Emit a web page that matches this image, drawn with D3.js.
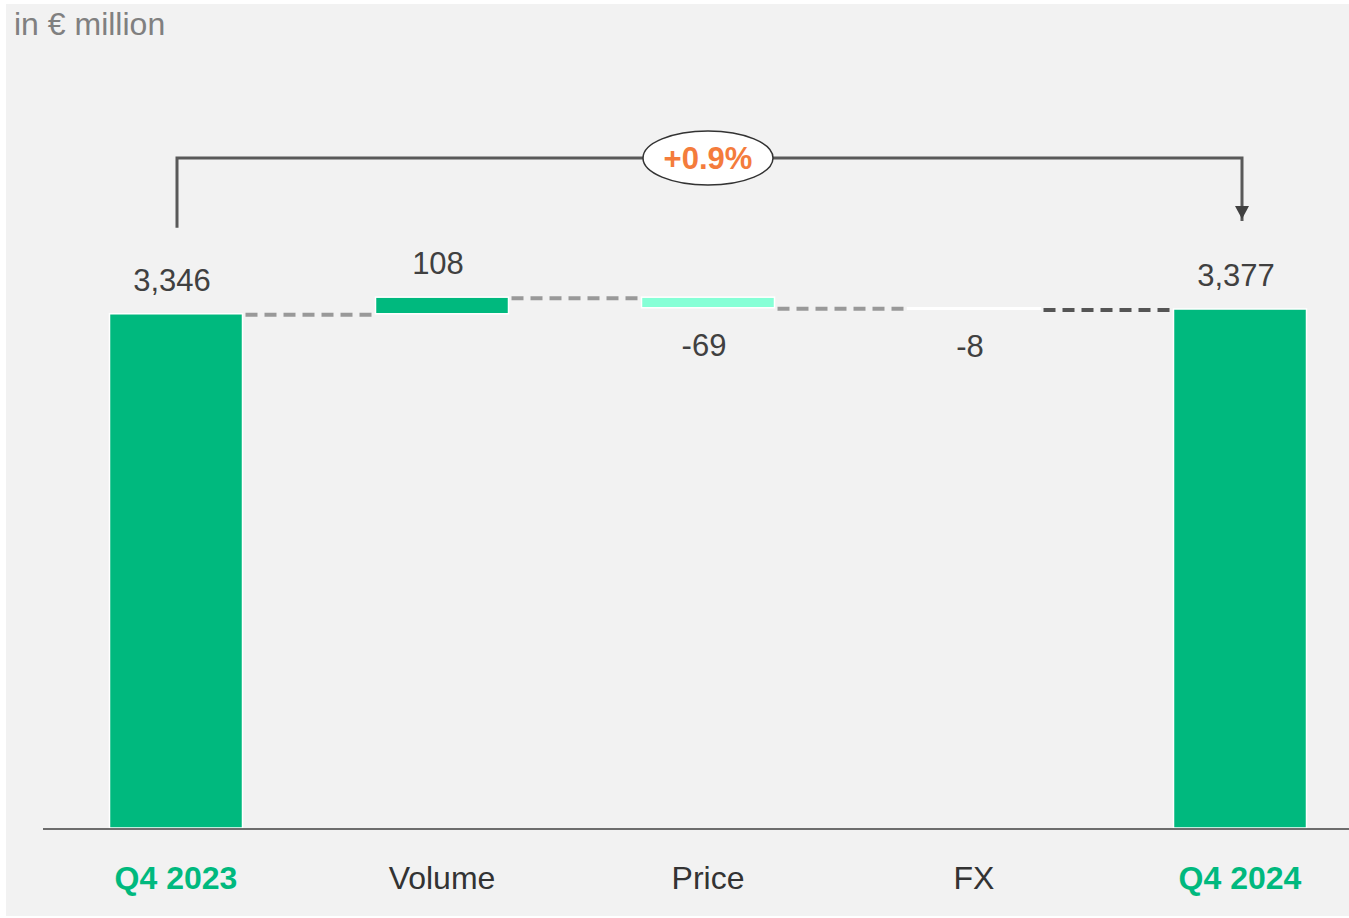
<!DOCTYPE html>
<html>
<head>
<meta charset="utf-8">
<script src="https://d3js.org/d3.v7.min.js"></script>
<style>
  body { margin: 0; background: #fff; }
  text { font-family: Arial, "Liberation Sans", sans-serif; }
</style>
</head>
<body>
<script>
// waterfall data
var categories = ["Q4 2023", "Volume", "Price", "FX", "Q4 2024"];
var values = [3346, 108, -69, -8, 3377];
var kinds = ["total", "delta", "delta", "delta", "total"];
var valueLabels = ["3,346", "108", "-69", "-8", "3,377"];
var barColors = ["#00b97e", "#00b97e", "#86ffd6", "#ffffff", "#00b97e"];
var changeLabel = "+0.9%";
var unitLabel = "in \u20ac million";

var width = 1349, height = 918;

var svg = d3.select("body").append("svg")
    .attr("width", width)
    .attr("height", height);

svg.append("rect")
    .attr("x", 6).attr("y", 4)
    .attr("width", width - 6).attr("height", height - 6)
    .attr("fill", "#f2f2f2");

// cumulative start/end for each bar
var bars = [];
var run = 0;
for (var i = 0; i < categories.length; i++) {
  var d = { cat: categories[i], value: values[i], kind: kinds[i], label: valueLabels[i], color: barColors[i] };
  if (kinds[i] == "total") {
    d.y0 = 0; d.y1 = values[i]; run = values[i];
  } else {
    d.y0 = run; d.y1 = run + values[i]; run = d.y1;
  }
  bars.push(d);
}

var x = d3.scaleBand()
    .domain(categories)
    .range([43, 1373])
    .paddingInner(0.5)
    .paddingOuter(0.25);

var y = d3.scaleLinear()
    .domain([0, 3377])
    .range([828, 309]);

// connectors
for (var i = 0; i < bars.length - 1; i++) {
  var lvl = bars[i].y1;
  svg.append("line")
      .attr("x1", x(bars[i].cat) + x.bandwidth() + 3)
      .attr("x2", x(bars[i + 1].cat) - 1)
      .attr("y1", y(lvl) + 1)
      .attr("y2", y(lvl) + 1)
      .attr("stroke", i == bars.length - 2 ? "#555" : "#999")
      .attr("stroke-width", 4)
      .attr("stroke-dasharray", "12,7");
}

// bars
svg.selectAll("rect.bar")
    .data(bars)
    .enter().append("rect")
    .attr("class", "bar")
    .attr("x", function(d) { return x(d.cat); })
    .attr("width", x.bandwidth())
    .attr("y", function(d) { return y(Math.max(d.y0, d.y1)); })
    .attr("height", function(d) { return Math.max(1.5, Math.abs(y(d.y0) - y(d.y1))); })
    .attr("fill", function(d) { return d.color; })
    .attr("stroke", "#fff")
    .attr("stroke-width", 1.5);

// value labels
svg.selectAll("text.val")
    .data(bars)
    .enter().append("text")
    .attr("class", "val")
    .attr("x", function(d) { return x(d.cat) + x.bandwidth() / 2 - 4; })
    .attr("y", function(d) {
      if (d.value < 0) return y(Math.min(d.y0, d.y1)) + 48;
      return y(Math.max(d.y0, d.y1)) - 23;
    })
    .attr("text-anchor", "middle")
    .attr("font-size", 31)
    .attr("fill", "#404040")
    .text(function(d) { return d.label; });

// axis
svg.append("line")
    .attr("x1", 43).attr("x2", width)
    .attr("y1", y(0) + 1).attr("y2", y(0) + 1)
    .attr("stroke", "#404040")
    .attr("stroke-width", 1.5);

svg.selectAll("text.cat")
    .data(bars)
    .enter().append("text")
    .attr("class", "cat")
    .attr("x", function(d) { return x(d.cat) + x.bandwidth() / 2; })
    .attr("y", 889)
    .attr("text-anchor", "middle")
    .attr("font-size", 32)
    .attr("font-weight", function(d) { return d.kind == "total" ? "bold" : "normal"; })
    .attr("fill", function(d) { return d.kind == "total" ? "#00b97e" : "#333"; })
    .text(function(d) { return d.cat; });

// bracket showing change
var xa = x(categories[0]) + x.bandwidth() / 2 + 1;
var xb = x(categories[4]) + x.bandwidth() / 2 + 2;
var topY = 158;
svg.append("path")
    .attr("d", "M" + xa + "," + (y(values[0]) - 86) + "V" + topY + "H" + xb + "V" + (y(values[4]) - 88))
    .attr("fill", "none")
    .attr("stroke", "#595959")
    .attr("stroke-width", 3);
svg.append("path")
    .attr("d", "M" + (xb - 7) + "," + (y(values[4]) - 103) + "H" + (xb + 7) + "L" + xb + "," + (y(values[4]) - 90) + "Z")
    .attr("fill", "#404040");

var cx = (x(categories[2]) + x.bandwidth() / 2);
svg.append("ellipse")
    .attr("cx", cx).attr("cy", topY)
    .attr("rx", 65).attr("ry", 27)
    .attr("fill", "#fff")
    .attr("stroke", "#333")
    .attr("stroke-width", 1.5);
svg.append("text")
    .attr("x", cx).attr("y", topY + 11)
    .attr("text-anchor", "middle")
    .attr("font-size", 31)
    .attr("font-weight", "bold")
    .attr("fill", "#f47c3c")
    .text(changeLabel);

svg.append("text")
    .attr("x", 14).attr("y", 35)
    .attr("font-family", "'Open Sans', sans-serif")
    .attr("font-size", 32)
    .attr("fill", "#808080")
    .text(unitLabel);
</script>
</body>
</html>
